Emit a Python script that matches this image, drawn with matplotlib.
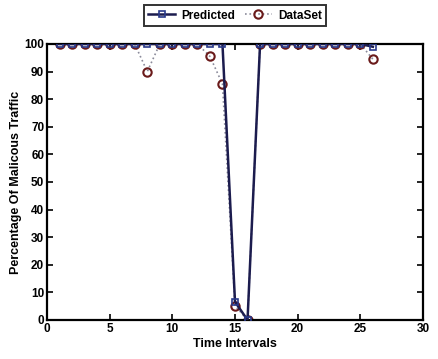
import matplotlib
matplotlib.use("Agg")
import matplotlib.pyplot as plt

# Données
intervals = list(range(1, 27))
predicted = [100, 100, 100, 100, 100, 100, 100, 100, 100, 100, 100, 100, 100, 100,
             6.6, 0, 100, 100, 100, 100, 100, 100, 100, 100, 100, 99]
dataset = [100, 100, 100, 100, 100, 100, 100, 90, 100, 100, 100, 100, 95.5, 85.5,
           5.2, 0, 100, 100, 100, 100, 100, 100, 100, 100, 100, 94.5]

plt.rcParams["font.family"] = ["Liberation Sans", "DejaVu Sans"]
plt.rcParams["font.weight"] = "bold"

fig = plt.figure(figsize=(4.39, 3.59), dpi=100)
ax = fig.add_axes([47 / 439, 1 - 320 / 359, 376 / 439, 276 / 359])

ax.plot(intervals, predicted, color="#1c1c4e", linewidth=1.8, marker="s",
        markersize=4.5, markerfacecolor="none", markeredgecolor="#2a3a8a",
        markeredgewidth=1.2, label="Predicted", zorder=3)
ax.plot(intervals, dataset, color="#8a8a9a", linewidth=1.2, linestyle=":",
        marker="o", markersize=6, markerfacecolor="none",
        markeredgecolor="#6a1a1a", markeredgewidth=1.5, label="DataSet", zorder=2)

ax.set_xlim(0, 30)
ax.set_ylim(0, 100)
ax.set_xticks(range(0, 31, 5))
ax.set_yticks(range(0, 101, 10))
ax.tick_params(direction="in", length=4, width=1.2, labelsize=8.5, top=True, right=True, pad=2)
for s in ax.spines.values():
    s.set_linewidth(1.6)

ax.set_xlabel("Time Intervals", fontsize=9, fontweight="bold", labelpad=2)
ax.set_ylabel("Percentage Of Malicous Traffic", fontsize=9, fontweight="bold", labelpad=2)

leg = ax.legend(loc="lower center", bbox_to_anchor=(0.5, 1.0), ncol=2, fontsize=8.5,
                frameon=True, fancybox=False, edgecolor="black", borderpad=0.35,
                handlelength=2.3, columnspacing=0.8, handletextpad=0.5,
                borderaxespad=1.55)
leg.get_frame().set_linewidth(1.4)

plt.savefig("out.png", dpi=100)
plt.close(fig)
